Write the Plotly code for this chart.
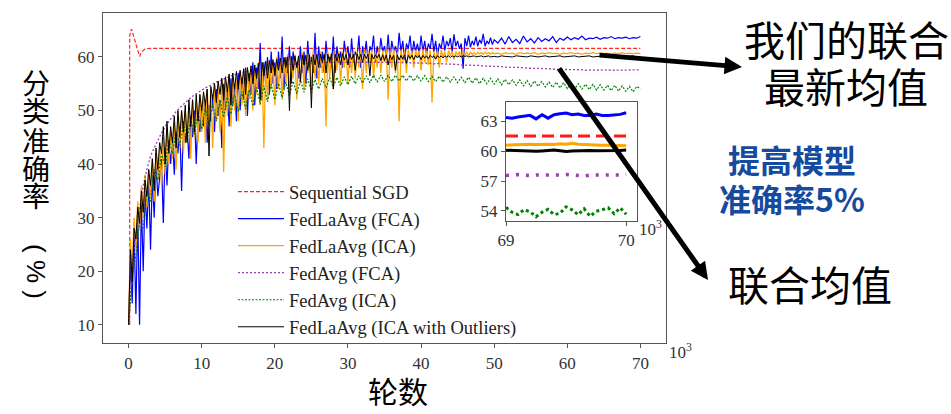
import plotly.graph_objects as go

# ---------------- data (accuracy in %, rounds in thousands) ----------------
# noisy runs are logged every 250 rounds up to 50k, then every 500 rounds
fine_rounds = [i * 0.25 for i in range(201)] + [50.5 + 0.5 * i for i in range(40)]
rounds = [i * 0.5 for i in range(141)]  # 0, 0.5, ..., 70

sgd_x = [0.15, 0.15, 0.4, 0.7, 1.0, 1.3, 1.5, 1.8, 2.3, 3.0, 70.0]
sgd_y = [10.0, 64.0, 65.2, 63.8, 62.5, 61.2, 60.1, 61.0, 61.5, 61.6, 61.6]

fedla_fca = [
    10, 22, 14, 28, 12, 31, 10, 33, 20, 35, 28, 37, 24, 38, 30, 40, 34, 38, 41, 29,
    43, 36, 44, 40, 45, 38, 46, 42, 47, 35, 48, 44, 47, 41, 49, 45, 50, 40, 49, 46,
    51, 47, 52, 44, 51, 48, 53, 46, 54, 49, 52, 43, 55, 50, 54, 47, 56, 51, 55, 48,
    57, 50, 56, 52, 58, 49, 57, 53, 59, 51, 58, 54, 62.6, 52, 59, 55, 60, 53, 61, 55,
    59, 54, 61, 56, 63.8, 54, 60, 57, 62, 55, 61, 58, 59, 56, 62, 57, 61, 55, 63, 58,
    60, 57, 64.5, 56, 62, 58, 61, 57, 63, 59, 60, 58, 63.8, 57, 62, 59, 61, 58, 63, 60,
    62, 58, 63.5, 59, 61, 60, 64, 58, 62, 60, 63, 59, 62, 61, 64, 59, 62, 60, 63.5, 61,
    62, 60, 64.2, 59.5, 63, 61, 62, 60, 64.5, 61, 63, 59.5, 62.5, 61.5, 64, 60, 63, 61, 62.5, 60.5,
    64, 61, 63, 60.5, 62.5, 61.5, 64.3, 61, 63, 60, 62.5, 61.5, 64, 61.2, 63, 62, 63.5, 61, 64.2, 62,
    63, 61.5, 62.5, 57.8, 63.5, 62, 64, 61.8, 63, 62.2, 63.8, 62, 63.2, 62.5, 64.3, 62, 63, 62.4, 63.6, 62.3,
    63.2,
    62.6, 63.5, 62.4, 63.8, 62.7, 63.3, 62.5, 63.9, 62.8, 63.4,
    62.6, 63.6, 62.9, 63.4, 63.0, 63.8, 62.7, 63.5, 63.1, 63.7,
    63.2, 63.6, 63.3, 63.9, 63.2, 63.5, 63.4, 63.7, 63.3, 63.6,
    63.5, 63.8, 63.4, 63.6, 63.5, 63.7, 63.4, 63.6, 63.5, 63.8,
]

fedla_ica = [
    10, 26, 20, 30, 24, 33, 28, 36, 30, 38, 32, 39, 34, 41, 33, 42, 37, 43, 36, 45,
    38, 47, 40, 46, 41, 48, 39, 49, 43, 50, 42, 50, 44, 51, 41, 52, 45, 52, 44, 53,
    46, 53, 44, 54, 47, 54, 43, 55, 48, 55, 46, 56, 38.5, 56, 49, 56.5, 47, 57, 50, 56,
    48, 57.5, 51, 57, 49, 58, 52, 58.5, 50, 58, 53, 59, 51, 59, 43, 58.5, 52, 59.5, 54, 59,
    51, 60, 54, 59.5, 52, 60, 55, 60.5, 53, 60, 56, 60.5, 52, 60.2, 55, 60.8, 54, 60.5, 57, 60.8,
    53, 61, 56, 60.5, 55, 61, 57, 60.7, 47, 61, 56, 60.8, 54, 61.2, 57.5, 61, 55, 61, 58, 61.2,
    55, 61, 57, 61.3, 56, 61, 58, 61.2, 54, 61.4, 57, 61, 59, 61.3, 56, 61.2, 58, 61.5, 57, 61.2,
    59, 61.4, 52, 61.2, 58, 61.5, 57, 61, 48, 61.3, 59, 61.2, 57, 61.5, 59.5, 61.2, 58, 61.3, 60, 61.2,
    57.5, 61.4, 59, 61.2, 58.5, 61.3, 51.5, 61, 59.5, 61.2, 58, 61.3, 60, 61, 59, 61.2, 60.2, 61.1, 59.5, 61,
    60.3, 61, 59.8, 61, 60.4, 60.9, 60.2, 60.9, 60.5, 60.8, 60.4, 60.9, 60.6, 60.8, 60.5, 60.9, 60.6, 60.8, 60.5, 60.8,
    60.6,
    60.7, 60.5, 60.8, 60.6, 60.7, 60.5, 60.8, 60.6, 60.7, 60.6,
    60.8, 60.5, 60.7, 60.6, 60.8, 60.6, 60.7, 60.5, 60.7, 60.6,
    60.8, 60.6, 60.7, 60.5, 60.7, 60.6, 60.8, 60.6, 60.7, 60.6,
    60.7, 60.5, 60.7, 60.6, 60.8, 60.6, 60.7, 60.6, 60.7, 60.6,
]

fedla_outliers = [
    10, 24, 18, 28, 26, 32, 29, 35, 31, 37, 34, 39, 36, 41, 35, 43, 39, 44, 42, 47,
    40, 48, 42, 47, 44, 49, 43, 50, 45, 50, 46, 51, 44, 52, 47, 52, 46, 53, 48, 53,
    50, 53.5, 51, 54, 41.5, 54.5, 52, 55, 51.5, 55.5, 53, 56, 52, 56.3, 53.5, 56.8, 51, 57, 54, 57.3,
    54, 57.5, 55, 57.8, 53, 58, 55.5, 58.3, 55, 58.5, 56, 58.8, 52, 59, 56.5, 59.2, 56, 59.3, 57, 59.5,
    56.5, 59.6, 57.5, 59.8, 57, 59.9, 58, 60, 50, 60.1, 57.5, 60.2, 58, 60.2, 55.5, 60.3, 58.5, 60.3, 57.5, 60.4,
    50.5, 60.4, 58.5, 60.5, 58, 60.5, 59, 60.5, 57, 60.5, 59, 60.6, 54, 60.5, 59.2, 60.6, 58.5, 60.6, 59.4, 60.5,
    58.5, 60.6, 59.5, 60.5, 57.5, 60.6, 59.5, 60.5, 59, 60.5, 59.7, 60.5, 56.5, 60.5, 59.6, 60.4, 59.8, 60.5, 59.3, 60.4,
    59.3, 60.4, 58.5, 60.4, 59.5, 60.3, 57.5, 60.4, 59.4, 60.3, 59.6, 60.4, 58.8, 60.3, 59.7, 60.3, 59.5, 60.3, 59.8, 60.3,
    59.5, 60.3, 59.8, 60.2, 59.7, 60.3, 59.9, 60.2, 59.6, 60.2, 59.9, 60.2, 59.8, 60.2, 60.0, 60.2, 59.9, 60.2, 60.0, 60.2,
    60.0, 60.2, 60.0, 60.2, 60.1, 60.2, 60.0, 60.1, 60.1, 60.2, 60.0, 60.1, 60.1, 60.2, 60.0, 60.1, 60.1, 60.2, 60.0, 60.1,
    60.1,
    60.0, 60.2, 60.1, 60.1, 60.0, 60.2, 60.1, 60.1, 60.0, 60.2,
    60.1, 60.0, 60.1, 60.2, 60.0, 60.1, 60.1, 60.2, 60.0, 60.1,
    60.1, 60.2, 60.0, 60.1, 60.1, 60.2, 60.0, 60.1, 60.1, 60.2,
    60.0, 60.1, 60.1, 60.2, 60.0, 60.1, 60.1, 60.2, 60.0, 60.1,
]

fedavg_fca = [
    10, 21, 27, 32, 36, 39, 41.5, 43, 44.5, 45.8,
    47, 48, 49, 49.8, 50.5, 51.2, 51.8, 52.4, 52.9, 53.4,
    53.8, 54.2, 54.6, 55, 55.3, 55.6, 55.9, 56.2, 56.4, 56.7,
    56.9, 57.1, 57.3, 57.5, 57.6, 57.8, 57.9, 58.0, 58.1, 58.2,
    58.3, 58.4, 58.5, 58.5, 58.6, 58.6, 58.7, 58.7, 58.8, 58.8,
    58.8, 58.9, 58.9, 58.9, 59.0, 58.9, 59.0, 59.0, 59.0, 59.1,
    59.0, 59.1, 59.0, 59.1, 59.1, 59.0, 59.1, 59.1, 59.0, 59.1,
    59.0, 59.1, 59.0, 59.0, 59.0, 58.9, 59.0, 58.9, 58.9, 58.9,
    58.9, 58.8, 58.8, 58.8, 58.7, 58.8, 58.7, 58.7, 58.6, 58.6,
    58.6, 58.5, 58.5, 58.5, 58.4, 58.4, 58.4, 58.3, 58.3, 58.3,
    58.2, 58.2, 58.2, 58.1, 58.1, 58.1, 58.0, 58.0, 58.0, 57.9,
    57.9, 57.9, 57.8, 57.8, 57.8, 57.8, 57.7, 57.7, 57.7, 57.7,
    57.6, 57.7, 57.6, 57.6, 57.6, 57.5, 57.6, 57.6, 57.5, 57.6,
    57.5, 57.6, 57.5, 57.5, 57.6, 57.5, 57.5, 57.6, 57.5, 57.6,
    57.6,
]

fedavg_ica = [
    10, 19, 23, 29, 28, 35, 33, 39, 37, 42,
    39.5, 44.5, 42, 46, 43.5, 47.5, 44.5, 48.5, 45.5, 49.5,
    46.5, 50.5, 47.3, 51.3, 48, 52, 48.7, 52.5, 49.3, 53,
    49.8, 53.5, 50.3, 53.9, 50.8, 54.3, 51.2, 54.6, 51.6, 54.9,
    52, 55.1, 52.4, 55.3, 52.8, 55.5, 53.1, 55.7, 53.4, 55.9,
    53.8, 55.8, 54, 56, 54.2, 56.1, 54.4, 56.2, 54.6, 56.3,
    54.8, 56.4, 55, 56.5, 55.1, 56.5, 55.2, 56.6, 55.3, 56.6,
    55.4, 56.6, 55.4, 56.6, 55.5, 56.6, 55.5, 56.6, 55.5, 56.5,
    55.5, 56.5, 55.4, 56.4, 55.4, 56.4, 55.3, 56.3, 55.3, 56.3,
    55.2, 56.2, 55.2, 56.2, 55.1, 56.1, 55.0, 56.0, 55.0, 56.0,
    54.9, 55.9, 54.8, 55.8, 54.8, 55.7, 54.7, 55.7, 54.6, 55.6,
    54.5, 55.5, 54.5, 55.4, 54.4, 55.3, 54.3, 55.3, 54.2, 55.2,
    54.1, 55.1, 54.0, 55.0, 54.0, 54.9, 53.9, 54.9, 53.8, 54.8,
    53.8, 54.7, 53.7, 54.7, 53.6, 54.6, 53.6, 54.5, 53.5, 54.5,
    54.0,
]

# last thousand rounds, sampled finer for the zoomed inset
tail_rounds = [69 + 0.05 * i for i in range(21)]
tail_sgd_x = [69.0, 70.0]
tail_sgd = [61.55, 61.55]
tail_fedla_fca = [63.41, 63.34, 63.45, 63.55, 63.62, 63.27, 63.68, 63.34, 63.68, 63.78, 63.85,
                  63.68, 63.75, 63.61, 63.61, 63.75, 63.61, 63.61, 63.68, 63.72, 63.88]
tail_fedla_ica = [60.62, 60.65, 60.68, 60.66, 60.70, 60.68, 60.72, 60.70, 60.68, 60.75, 60.72,
                  60.80, 60.72, 60.68, 60.65, 60.62, 60.60, 60.60, 60.62, 60.58, 60.56]
tail_fedavg_fca = [57.55, 57.62, 57.65, 57.60, 57.55, 57.62, 57.60, 57.58, 57.62, 57.60, 57.65,
                   57.60, 57.58, 57.52, 57.60, 57.62, 57.65, 57.60, 57.62, 57.60, 57.65]
tail_fedavg_ica = [54.35, 53.85, 53.62, 54.12, 53.90, 53.40, 53.85, 54.15, 53.60, 53.75, 54.40,
                   54.10, 53.60, 54.20, 53.45, 53.95, 54.10, 54.30, 53.70, 54.30, 53.65]
tail_outliers = [60.10, 60.08, 60.05, 60.00, 59.98, 60.00, 60.04, 60.08, 60.12, 60.05, 59.98,
                 60.02, 60.06, 60.10, 60.08, 60.05, 60.04, 60.06, 60.05, 60.08, 60.12]

x_ticks = [0, 10, 20, 30, 40, 50, 60, 70]
y_ticks = [10, 20, 30, 40, 50, 60]
inset_x_ticks = [69, 70]
inset_y_ticks = [54, 57, 60, 63]

# ---------------- figure ----------------
W, H = 951, 414
L, R, T, B = 103, 666, 13, 343


def px(xp):
    return (xp - L) / (R - L)


def py(yp):
    return (B - yp) / (B - T)


SERIF = "Liberation Serif"
SANS = "Liberation Sans"
CJK = "Noto Sans CJK SC"

C_RED = "rgba(255,0,0,0.85)"
C_BLUE = "#0000ff"
C_ORANGE = "#ffa500"
C_PURPLE = "#a03cb4"
C_GREEN = "#008000"
C_BLACK = "#000000"

fig = go.Figure()

main_series = [
    ("Sequential SGD", sgd_x, sgd_y, dict(color=C_RED, width=1.2, dash="4px,2px")),
    ("FedLaAvg (FCA)", fine_rounds, fedla_fca, dict(color=C_BLUE, width=1.2)),
    ("FedLaAvg (ICA)", fine_rounds, fedla_ica, dict(color=C_ORANGE, width=1.3)),
    ("FedAvg (FCA)", rounds, fedavg_fca, dict(color=C_PURPLE, width=1.3, dash="2px,2px")),
    ("FedAvg (ICA)", rounds, fedavg_ica, dict(color=C_GREEN, width=1.2, dash="2px,1.5px")),
    ("FedLaAvg (ICA with Outliers)", fine_rounds, fedla_outliers, dict(color=C_BLACK, width=1.0)),
]
for name, xs, ys, ln in main_series:
    fig.add_trace(go.Scatter(x=xs, y=ys, name=name, mode="lines", line=ln,
                             hoverinfo="skip"))

# inset: opaque background so the main curves do not show through
ix0, ix1, iy0, iy1 = 69.0, 70.09, 53.0, 65.0
fig.add_trace(go.Scatter(x=[ix0, ix1, ix1, ix0, ix0], y=[iy0, iy0, iy1, iy1, iy0],
                         mode="lines", fill="toself", fillcolor="white",
                         line=dict(width=0, color="white"), showlegend=False,
                         hoverinfo="skip", xaxis="x2", yaxis="y2"))
inset_series = [
    (tail_sgd_x, tail_sgd, dict(color="#ff1a1a", width=3, dash="12px,6px")),
    (tail_rounds, tail_fedla_fca, dict(color=C_BLUE, width=3)),
    (tail_rounds, tail_fedla_ica, dict(color=C_ORANGE, width=3)),
    (tail_rounds, tail_fedavg_fca, dict(color=C_PURPLE, width=3.5, dash="3px,7px")),
    (tail_rounds, tail_fedavg_ica, dict(color=C_GREEN, width=3, dash="3px,3px")),
    (tail_rounds, tail_outliers, dict(color=C_BLACK, width=3)),
]
for xs, ys, ln in inset_series:
    fig.add_trace(go.Scatter(x=xs, y=ys, mode="lines", line=ln, showlegend=False,
                             hoverinfo="skip", xaxis="x2", yaxis="y2"))

axis_style = dict(showline=True, linecolor="#555", linewidth=1.2, mirror=True,
                  ticks="outside", ticklen=4, tickwidth=1, tickcolor="#555",
                  showgrid=False, zeroline=False,
                  tickfont=dict(family=SERIF, size=17, color="#333"))

fig.update_layout(
    width=W, height=H,
    margin=dict(l=L, r=W - R, t=T, b=H - B, autoexpand=False),
    paper_bgcolor="white", plot_bgcolor="white",
    showlegend=True,
    legend=dict(x=px(233), y=py(173), xanchor="left", yanchor="top",
                bgcolor="rgba(0,0,0,0)", borderwidth=0, itemwidth=46,
                font=dict(family=SERIF, size=18.5, color="#222")),
    xaxis=dict(domain=[0, 1], range=[-3.5, 73.5], tickvals=x_ticks, **axis_style),
    yaxis=dict(domain=[0, 1], range=[6.6, 68.2], tickvals=y_ticks, **axis_style),
    xaxis2=dict(domain=[px(506), px(637)], anchor="y2", range=[ix0, ix1],
                tickvals=inset_x_ticks, **axis_style),
    yaxis2=dict(domain=[py(220.7), py(101.7)], anchor="x2", range=[iy0, iy1],
                tickvals=inset_y_ticks, **axis_style),
)

ann = []


def text_at(x, y, text, size, family=CJK, color="black", angle=0, yanchor="middle"):
    ann.append(dict(x=px(x), y=py(y), xref="paper", yref="paper", text=text,
                    showarrow=False, xanchor="center", yanchor=yanchor,
                    textangle=angle, font=dict(family=family, size=size, color=color)))


def arrow(tail, tip):
    ann.append(dict(x=px(tip[0]), y=py(tip[1]), xref="paper", yref="paper", text="",
                    showarrow=True, ax=tail[0] - tip[0], ay=tail[1] - tip[1],
                    arrowhead=2, arrowsize=0.7, arrowwidth=5, arrowcolor="black",
                    standoff=0, startstandoff=0))


# vertical y-axis title: upright CJK glyphs, then the unit "(%)" turned 90 degrees
for ch, yc in zip("分类准确率", [82.5, 110.5, 139.5, 167.5, 195.5]):
    text_at(36, yc, ch, 28)
text_at(36, 271, "( % )", 26, family=SANS, angle=90)

text_at(398, 414, "轮数", 30, yanchor="bottom")
text_at(680, 351, "10<sup>3</sup>", 17, family=SERIF, color="#333")
text_at(650, 228, "10<sup>3</sup>", 17, family=SERIF, color="#333")

text_at(846, 38, "我们的联合", 41)
text_at(846, 85, "最新均值", 41)
text_at(792, 159, "<b>提高模型</b>", 32, color="#154a9e")
text_at(792, 198, "<b>准确率5%</b>", 32, color="#154a9e")
text_at(810, 283, "联合均值", 41)

arrow((598, 55), (742, 67))
arrow((558, 67), (708, 280))

fig.update_layout(annotations=ann)
fig.write_html("out.html")
